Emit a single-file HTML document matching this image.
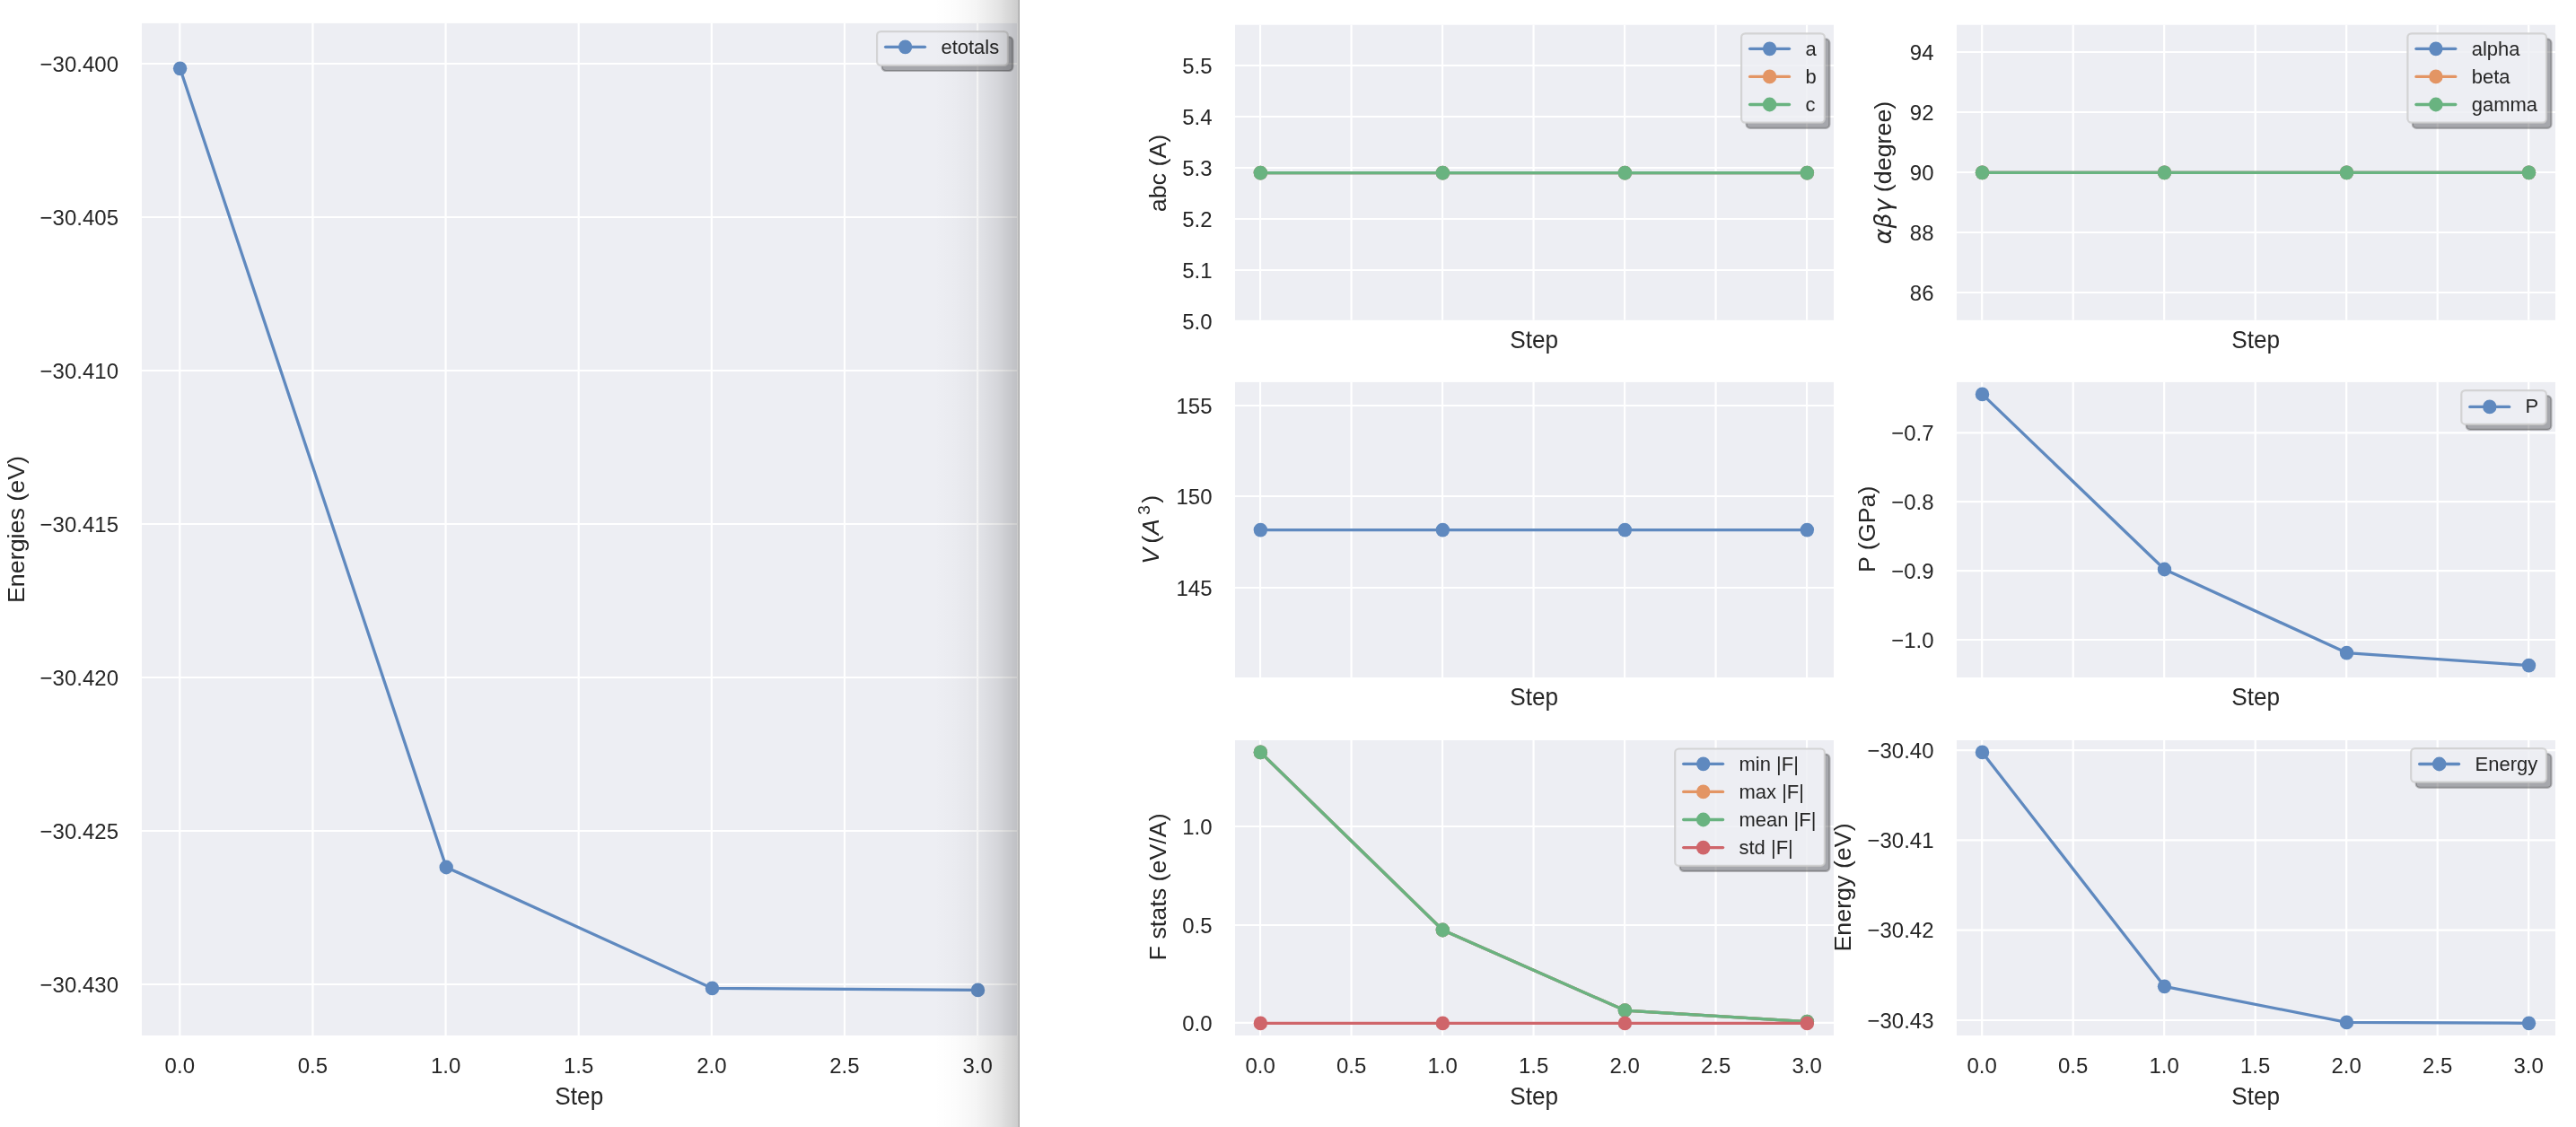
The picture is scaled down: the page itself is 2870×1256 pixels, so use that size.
<!DOCTYPE html>
<html lang="en"><head><meta charset="utf-8"><title>Relaxation history plots</title>
<style>
html,body{margin:0;padding:0;background:#fff;}
body{width:2870px;height:1256px;overflow:hidden;}
svg{display:block;will-change:transform;}
text{font-family:'Liberation Sans', Arial, sans-serif;fill:#262626;}
.t{font-size:24px;}
.l{font-size:26.2px;}
.g{font-size:22px;}
</style></head>
<body>
<svg width="2870" height="1256" viewBox="0 0 2870 1256">
<defs>
<linearGradient id="fold" x1="0" y1="0" x2="1" y2="0">
<stop offset="0" stop-color="#000" stop-opacity="0"/>
<stop offset=".25" stop-color="#000" stop-opacity=".012"/>
<stop offset=".5" stop-color="#000" stop-opacity=".04"/>
<stop offset=".75" stop-color="#000" stop-opacity=".10"/>
<stop offset="1" stop-color="#000" stop-opacity=".20"/>
</linearGradient>
</defs>
<rect width="2870" height="1256" fill="#fff"/>
<rect x="158" y="25.9" width="975.00" height="1128.00" fill="#EDEEF3"/>
<path d="M200.30 25.9V1153.9M348.43 25.9V1153.9M496.56 25.9V1153.9M644.69 25.9V1153.9M792.82 25.9V1153.9M940.95 25.9V1153.9M1089.08 25.9V1153.9M158 71.00H1133M158 242.00H1133M158 413.00H1133M158 584.00H1133M158 755.00H1133M158 926.00H1133M158 1097.00H1133" stroke="#fff" stroke-width="2.2" fill="none"/>
<path d="M200.60 76.30L497.20 966.50L793.50 1101.40L1089.50 1103.40" stroke="#5F89BF" stroke-width="3.3" fill="none" stroke-linecap="round" stroke-linejoin="round"/>
<ellipse cx="200.60" cy="76.30" rx="7.7" ry="7.89" fill="#5F89BF"/>
<ellipse cx="497.20" cy="966.50" rx="7.7" ry="7.89" fill="#5F89BF"/>
<ellipse cx="793.50" cy="1101.40" rx="7.7" ry="7.89" fill="#5F89BF"/>
<ellipse cx="1089.50" cy="1103.40" rx="7.7" ry="7.89" fill="#5F89BF"/>
<text transform="translate(132,79.70) scale(1,1.025)" text-anchor="end" class="t">−30.400</text>
<text transform="translate(132,250.70) scale(1,1.025)" text-anchor="end" class="t">−30.405</text>
<text transform="translate(132,421.70) scale(1,1.025)" text-anchor="end" class="t">−30.410</text>
<text transform="translate(132,592.70) scale(1,1.025)" text-anchor="end" class="t">−30.415</text>
<text transform="translate(132,763.70) scale(1,1.025)" text-anchor="end" class="t">−30.420</text>
<text transform="translate(132,934.70) scale(1,1.025)" text-anchor="end" class="t">−30.425</text>
<text transform="translate(132,1105.70) scale(1,1.025)" text-anchor="end" class="t">−30.430</text>
<text transform="translate(200.30,1196) scale(1,1.025)" text-anchor="middle" class="t">0.0</text>
<text transform="translate(348.43,1196) scale(1,1.025)" text-anchor="middle" class="t">0.5</text>
<text transform="translate(496.56,1196) scale(1,1.025)" text-anchor="middle" class="t">1.0</text>
<text transform="translate(644.69,1196) scale(1,1.025)" text-anchor="middle" class="t">1.5</text>
<text transform="translate(792.82,1196) scale(1,1.025)" text-anchor="middle" class="t">2.0</text>
<text transform="translate(940.95,1196) scale(1,1.025)" text-anchor="middle" class="t">2.5</text>
<text transform="translate(1089.08,1196) scale(1,1.025)" text-anchor="middle" class="t">3.0</text>
<text transform="translate(645.30,1230.7) scale(1,1.025)" text-anchor="middle" class="l">Step</text>
<text transform="translate(27.1,590) scale(1,1.025) rotate(-90)" text-anchor="middle" class="l">Energies (eV)</text>
<rect x="982.60" y="41.20" width="145.80" height="37.80" rx="4.4" fill="#464649" fill-opacity=".42" stroke="#3d3d3d" stroke-opacity=".33" stroke-width="2.2"/>
<rect x="977.10" y="35.10" width="145.80" height="37.80" rx="4.4" fill="#EDEEF3"/>
<path d="M1089.08 36.20V71.80" stroke="#fff" stroke-opacity=".2" stroke-width="2.2" fill="none"/>
<rect x="977.10" y="35.10" width="145.80" height="37.80" rx="4.4" fill="none" stroke="#cccccc" stroke-opacity=".8" stroke-width="2.2"/>
<path d="M986.60 52.30H1030.50" stroke="#5F89BF" stroke-width="3.3" stroke-linecap="round"/>
<ellipse cx="1008.60" cy="52.30" rx="7.7" ry="7.89" fill="#5F89BF"/>
<text transform="translate(1048.40,59.60) scale(1,1.025)" class="g">etotals</text>
<rect x="1040" y="0" width="94.6" height="1256" fill="url(#fold)"/>
<rect x="1134.4" y="0" width="1.6" height="1256" fill="#a6a6a6"/>
<rect x="1376" y="27.7" width="667.00" height="329.10" fill="#EDEEF3"/>
<path d="M1404.06 27.7V356.8M1505.56 27.7V356.8M1607.06 27.7V356.8M1708.56 27.7V356.8M1810.06 27.7V356.8M1911.56 27.7V356.8M2013.06 27.7V356.8M1376 73.00H2043M1376 130.00H2043M1376 187.00H2043M1376 244.00H2043M1376 301.00H2043" stroke="#fff" stroke-width="2.2" fill="none"/>
<path d="M1404.36 192.60L1607.36 192.60L1810.36 192.60L2013.36 192.60" stroke="#5F89BF" stroke-width="3.3" fill="none" stroke-linecap="round" stroke-linejoin="round"/>
<ellipse cx="1404.36" cy="192.60" rx="7.7" ry="7.89" fill="#5F89BF"/>
<ellipse cx="1607.36" cy="192.60" rx="7.7" ry="7.89" fill="#5F89BF"/>
<ellipse cx="1810.36" cy="192.60" rx="7.7" ry="7.89" fill="#5F89BF"/>
<ellipse cx="2013.36" cy="192.60" rx="7.7" ry="7.89" fill="#5F89BF"/>
<path d="M1404.36 192.60L1607.36 192.60L1810.36 192.60L2013.36 192.60" stroke="#E39564" stroke-width="3.3" fill="none" stroke-linecap="round" stroke-linejoin="round"/>
<ellipse cx="1404.36" cy="192.60" rx="7.7" ry="7.89" fill="#E39564"/>
<ellipse cx="1607.36" cy="192.60" rx="7.7" ry="7.89" fill="#E39564"/>
<ellipse cx="1810.36" cy="192.60" rx="7.7" ry="7.89" fill="#E39564"/>
<ellipse cx="2013.36" cy="192.60" rx="7.7" ry="7.89" fill="#E39564"/>
<path d="M1404.36 192.60L1607.36 192.60L1810.36 192.60L2013.36 192.60" stroke="#69B380" stroke-width="3.3" fill="none" stroke-linecap="round" stroke-linejoin="round"/>
<ellipse cx="1404.36" cy="192.60" rx="7.7" ry="7.89" fill="#69B380"/>
<ellipse cx="1607.36" cy="192.60" rx="7.7" ry="7.89" fill="#69B380"/>
<ellipse cx="1810.36" cy="192.60" rx="7.7" ry="7.89" fill="#69B380"/>
<ellipse cx="2013.36" cy="192.60" rx="7.7" ry="7.89" fill="#69B380"/>
<text transform="translate(1350.5,81.70) scale(1,1.025)" text-anchor="end" class="t">5.5</text>
<text transform="translate(1350.5,138.70) scale(1,1.025)" text-anchor="end" class="t">5.4</text>
<text transform="translate(1350.5,195.70) scale(1,1.025)" text-anchor="end" class="t">5.3</text>
<text transform="translate(1350.5,252.70) scale(1,1.025)" text-anchor="end" class="t">5.2</text>
<text transform="translate(1350.5,309.70) scale(1,1.025)" text-anchor="end" class="t">5.1</text>
<text transform="translate(1350.5,366.70) scale(1,1.025)" text-anchor="end" class="t">5.0</text>
<text transform="translate(1709.20,387.8) scale(1,1.025)" text-anchor="middle" class="l">Step</text>
<text transform="translate(1299,193) scale(1,1.025) rotate(-90)" text-anchor="middle" class="l">abc (A)</text>
<rect x="1945.60" y="43.40" width="92.80" height="99.40" rx="4.4" fill="#464649" fill-opacity=".42" stroke="#3d3d3d" stroke-opacity=".33" stroke-width="2.2"/>
<rect x="1940.10" y="37.30" width="92.80" height="99.40" rx="4.4" fill="#EDEEF3"/>
<path d="M2013.06 38.40V135.60M1941.20 73.00H2031.80M1941.20 130.00H2031.80" stroke="#fff" stroke-opacity=".2" stroke-width="2.2" fill="none"/>
<rect x="1940.10" y="37.30" width="92.80" height="99.40" rx="4.4" fill="none" stroke="#cccccc" stroke-opacity=".8" stroke-width="2.2"/>
<path d="M1949.60 54.30H1993.50" stroke="#5F89BF" stroke-width="3.3" stroke-linecap="round"/>
<ellipse cx="1971.60" cy="54.30" rx="7.7" ry="7.89" fill="#5F89BF"/>
<text transform="translate(2011.40,61.60) scale(1,1.025)" class="g">a</text>
<path d="M1949.60 85.40H1993.50" stroke="#E39564" stroke-width="3.3" stroke-linecap="round"/>
<ellipse cx="1971.60" cy="85.40" rx="7.7" ry="7.89" fill="#E39564"/>
<text transform="translate(2011.40,92.70) scale(1,1.025)" class="g">b</text>
<path d="M1949.60 116.50H1993.50" stroke="#69B380" stroke-width="3.3" stroke-linecap="round"/>
<ellipse cx="1971.60" cy="116.50" rx="7.7" ry="7.89" fill="#69B380"/>
<text transform="translate(2011.40,123.80) scale(1,1.025)" class="g">c</text>
<rect x="2180" y="27.7" width="667.00" height="329.10" fill="#EDEEF3"/>
<path d="M2208.20 27.7V356.8M2309.70 27.7V356.8M2411.20 27.7V356.8M2512.70 27.7V356.8M2614.20 27.7V356.8M2715.70 27.7V356.8M2817.20 27.7V356.8M2180 58.00H2847M2180 125.00H2847M2180 192.00H2847M2180 259.00H2847M2180 326.00H2847" stroke="#fff" stroke-width="2.2" fill="none"/>
<path d="M2208.50 192.30L2411.50 192.30L2614.50 192.30L2817.50 192.30" stroke="#5F89BF" stroke-width="3.3" fill="none" stroke-linecap="round" stroke-linejoin="round"/>
<ellipse cx="2208.50" cy="192.30" rx="7.7" ry="7.89" fill="#5F89BF"/>
<ellipse cx="2411.50" cy="192.30" rx="7.7" ry="7.89" fill="#5F89BF"/>
<ellipse cx="2614.50" cy="192.30" rx="7.7" ry="7.89" fill="#5F89BF"/>
<ellipse cx="2817.50" cy="192.30" rx="7.7" ry="7.89" fill="#5F89BF"/>
<path d="M2208.50 192.30L2411.50 192.30L2614.50 192.30L2817.50 192.30" stroke="#E39564" stroke-width="3.3" fill="none" stroke-linecap="round" stroke-linejoin="round"/>
<ellipse cx="2208.50" cy="192.30" rx="7.7" ry="7.89" fill="#E39564"/>
<ellipse cx="2411.50" cy="192.30" rx="7.7" ry="7.89" fill="#E39564"/>
<ellipse cx="2614.50" cy="192.30" rx="7.7" ry="7.89" fill="#E39564"/>
<ellipse cx="2817.50" cy="192.30" rx="7.7" ry="7.89" fill="#E39564"/>
<path d="M2208.50 192.30L2411.50 192.30L2614.50 192.30L2817.50 192.30" stroke="#69B380" stroke-width="3.3" fill="none" stroke-linecap="round" stroke-linejoin="round"/>
<ellipse cx="2208.50" cy="192.30" rx="7.7" ry="7.89" fill="#69B380"/>
<ellipse cx="2411.50" cy="192.30" rx="7.7" ry="7.89" fill="#69B380"/>
<ellipse cx="2614.50" cy="192.30" rx="7.7" ry="7.89" fill="#69B380"/>
<ellipse cx="2817.50" cy="192.30" rx="7.7" ry="7.89" fill="#69B380"/>
<text transform="translate(2154.5,66.70) scale(1,1.025)" text-anchor="end" class="t">94</text>
<text transform="translate(2154.5,133.70) scale(1,1.025)" text-anchor="end" class="t">92</text>
<text transform="translate(2154.5,200.70) scale(1,1.025)" text-anchor="end" class="t">90</text>
<text transform="translate(2154.5,267.70) scale(1,1.025)" text-anchor="end" class="t">88</text>
<text transform="translate(2154.5,334.70) scale(1,1.025)" text-anchor="end" class="t">86</text>
<text transform="translate(2513.20,387.8) scale(1,1.025)" text-anchor="middle" class="l">Step</text>
<text transform="translate(2107.2,192.5) scale(1,1.025) rotate(-90)" text-anchor="middle" class="l"><tspan font-family="DejaVu Sans" font-style="italic">αβγ</tspan> (degree)</text>
<rect x="2687.90" y="43.40" width="154.60" height="99.40" rx="4.4" fill="#464649" fill-opacity=".42" stroke="#3d3d3d" stroke-opacity=".33" stroke-width="2.2"/>
<rect x="2682.40" y="37.30" width="154.60" height="99.40" rx="4.4" fill="#EDEEF3"/>
<path d="M2715.70 38.40V135.60M2817.20 38.40V135.60M2683.50 58.00H2835.90M2683.50 125.00H2835.90" stroke="#fff" stroke-opacity=".2" stroke-width="2.2" fill="none"/>
<rect x="2682.40" y="37.30" width="154.60" height="99.40" rx="4.4" fill="none" stroke="#cccccc" stroke-opacity=".8" stroke-width="2.2"/>
<path d="M2691.90 54.30H2735.80" stroke="#5F89BF" stroke-width="3.3" stroke-linecap="round"/>
<ellipse cx="2713.90" cy="54.30" rx="7.7" ry="7.89" fill="#5F89BF"/>
<text transform="translate(2753.70,61.60) scale(1,1.025)" class="g">alpha</text>
<path d="M2691.90 85.40H2735.80" stroke="#E39564" stroke-width="3.3" stroke-linecap="round"/>
<ellipse cx="2713.90" cy="85.40" rx="7.7" ry="7.89" fill="#E39564"/>
<text transform="translate(2753.70,92.70) scale(1,1.025)" class="g">beta</text>
<path d="M2691.90 116.50H2735.80" stroke="#69B380" stroke-width="3.3" stroke-linecap="round"/>
<ellipse cx="2713.90" cy="116.50" rx="7.7" ry="7.89" fill="#69B380"/>
<text transform="translate(2753.70,123.80) scale(1,1.025)" class="g">gamma</text>
<rect x="1376" y="425.9" width="667.00" height="329.00" fill="#EDEEF3"/>
<path d="M1404.06 425.9V754.9M1505.56 425.9V754.9M1607.06 425.9V754.9M1708.56 425.9V754.9M1810.06 425.9V754.9M1911.56 425.9V754.9M2013.06 425.9V754.9M1376 452.00H2043M1376 553.00H2043M1376 655.00H2043" stroke="#fff" stroke-width="2.2" fill="none"/>
<path d="M1404.36 590.60L1607.36 590.60L1810.36 590.60L2013.36 590.60" stroke="#5F89BF" stroke-width="3.3" fill="none" stroke-linecap="round" stroke-linejoin="round"/>
<ellipse cx="1404.36" cy="590.60" rx="7.7" ry="7.89" fill="#5F89BF"/>
<ellipse cx="1607.36" cy="590.60" rx="7.7" ry="7.89" fill="#5F89BF"/>
<ellipse cx="1810.36" cy="590.60" rx="7.7" ry="7.89" fill="#5F89BF"/>
<ellipse cx="2013.36" cy="590.60" rx="7.7" ry="7.89" fill="#5F89BF"/>
<text transform="translate(1350.5,460.70) scale(1,1.025)" text-anchor="end" class="t">155</text>
<text transform="translate(1350.5,561.70) scale(1,1.025)" text-anchor="end" class="t">150</text>
<text transform="translate(1350.5,663.70) scale(1,1.025)" text-anchor="end" class="t">145</text>
<text transform="translate(1709.20,785.6) scale(1,1.025)" text-anchor="middle" class="l">Step</text>
<g transform="translate(1291,590.4) scale(1,1.025) rotate(-90)" class="l"><text x="-37.5" y="0" font-style="italic">V</text><text x="-14.9" y="0">(</text><text x="-5.8" y="0" font-style="italic">A</text><text x="16.2" y="-9.6" font-size="18.5">3</text><text x="28.9" y="0">)</text></g>
<rect x="2180" y="425.9" width="667.00" height="329.00" fill="#EDEEF3"/>
<path d="M2208.20 425.9V754.9M2309.70 425.9V754.9M2411.20 425.9V754.9M2512.70 425.9V754.9M2614.20 425.9V754.9M2715.70 425.9V754.9M2817.20 425.9V754.9M2180 482.30H2847M2180 559.20H2847M2180 636.10H2847M2180 713.00H2847" stroke="#fff" stroke-width="2.2" fill="none"/>
<path d="M2208.50 439.40L2411.50 634.50L2614.50 727.60L2817.50 741.60" stroke="#5F89BF" stroke-width="3.3" fill="none" stroke-linecap="round" stroke-linejoin="round"/>
<ellipse cx="2208.50" cy="439.40" rx="7.7" ry="7.89" fill="#5F89BF"/>
<ellipse cx="2411.50" cy="634.50" rx="7.7" ry="7.89" fill="#5F89BF"/>
<ellipse cx="2614.50" cy="727.60" rx="7.7" ry="7.89" fill="#5F89BF"/>
<ellipse cx="2817.50" cy="741.60" rx="7.7" ry="7.89" fill="#5F89BF"/>
<text transform="translate(2154.5,491.00) scale(1,1.025)" text-anchor="end" class="t">−0.7</text>
<text transform="translate(2154.5,567.90) scale(1,1.025)" text-anchor="end" class="t">−0.8</text>
<text transform="translate(2154.5,644.80) scale(1,1.025)" text-anchor="end" class="t">−0.9</text>
<text transform="translate(2154.5,721.70) scale(1,1.025)" text-anchor="end" class="t">−1.0</text>
<text transform="translate(2513.20,785.6) scale(1,1.025)" text-anchor="middle" class="l">Step</text>
<text transform="translate(2088.7,589.8) scale(1,1.025) rotate(-90)" text-anchor="middle" class="l">P (GPa)</text>
<rect x="2747.80" y="441.20" width="94.60" height="37.70" rx="4.4" fill="#464649" fill-opacity=".42" stroke="#3d3d3d" stroke-opacity=".33" stroke-width="2.2"/>
<rect x="2742.30" y="435.10" width="94.60" height="37.70" rx="4.4" fill="#EDEEF3"/>
<path d="M2817.20 436.20V471.70" stroke="#fff" stroke-opacity=".2" stroke-width="2.2" fill="none"/>
<rect x="2742.30" y="435.10" width="94.60" height="37.70" rx="4.4" fill="none" stroke="#cccccc" stroke-opacity=".8" stroke-width="2.2"/>
<path d="M2751.80 453.40H2795.70" stroke="#5F89BF" stroke-width="3.3" stroke-linecap="round"/>
<ellipse cx="2773.80" cy="453.40" rx="7.7" ry="7.89" fill="#5F89BF"/>
<text transform="translate(2813.60,459.90) scale(1,1.025)" class="g">P</text>
<rect x="1376" y="825" width="667.00" height="328.90" fill="#EDEEF3"/>
<path d="M1404.06 825V1153.9M1505.56 825V1153.9M1607.06 825V1153.9M1708.56 825V1153.9M1810.06 825V1153.9M1911.56 825V1153.9M2013.06 825V1153.9M1376 921.00H2043M1376 1031.00H2043M1376 1139.90H2043" stroke="#fff" stroke-width="2.2" fill="none"/>
<path d="M1404.36 838.40L1607.36 1036.50L1810.36 1126.10L2013.36 1138.60" stroke="#5F89BF" stroke-width="3.3" fill="none" stroke-linecap="round" stroke-linejoin="round"/>
<ellipse cx="1404.36" cy="838.40" rx="7.7" ry="7.89" fill="#5F89BF"/>
<ellipse cx="1607.36" cy="1036.50" rx="7.7" ry="7.89" fill="#5F89BF"/>
<ellipse cx="1810.36" cy="1126.10" rx="7.7" ry="7.89" fill="#5F89BF"/>
<ellipse cx="2013.36" cy="1138.60" rx="7.7" ry="7.89" fill="#5F89BF"/>
<path d="M1404.36 838.40L1607.36 1036.50L1810.36 1126.10L2013.36 1138.60" stroke="#E39564" stroke-width="3.3" fill="none" stroke-linecap="round" stroke-linejoin="round"/>
<ellipse cx="1404.36" cy="838.40" rx="7.7" ry="7.89" fill="#E39564"/>
<ellipse cx="1607.36" cy="1036.50" rx="7.7" ry="7.89" fill="#E39564"/>
<ellipse cx="1810.36" cy="1126.10" rx="7.7" ry="7.89" fill="#E39564"/>
<ellipse cx="2013.36" cy="1138.60" rx="7.7" ry="7.89" fill="#E39564"/>
<path d="M1404.36 838.40L1607.36 1036.50L1810.36 1126.10L2013.36 1138.60" stroke="#69B380" stroke-width="3.3" fill="none" stroke-linecap="round" stroke-linejoin="round"/>
<ellipse cx="1404.36" cy="838.40" rx="7.7" ry="7.89" fill="#69B380"/>
<ellipse cx="1607.36" cy="1036.50" rx="7.7" ry="7.89" fill="#69B380"/>
<ellipse cx="1810.36" cy="1126.10" rx="7.7" ry="7.89" fill="#69B380"/>
<ellipse cx="2013.36" cy="1138.60" rx="7.7" ry="7.89" fill="#69B380"/>
<path d="M1404.36 1140.40L1607.36 1140.40L1810.36 1140.40L2013.36 1140.40" stroke="#CF656A" stroke-width="3.3" fill="none" stroke-linecap="round" stroke-linejoin="round"/>
<ellipse cx="1404.36" cy="1140.40" rx="7.7" ry="7.89" fill="#CF656A"/>
<ellipse cx="1607.36" cy="1140.40" rx="7.7" ry="7.89" fill="#CF656A"/>
<ellipse cx="1810.36" cy="1140.40" rx="7.7" ry="7.89" fill="#CF656A"/>
<ellipse cx="2013.36" cy="1140.40" rx="7.7" ry="7.89" fill="#CF656A"/>
<text transform="translate(1350.5,929.70) scale(1,1.025)" text-anchor="end" class="t">1.0</text>
<text transform="translate(1350.5,1039.70) scale(1,1.025)" text-anchor="end" class="t">0.5</text>
<text transform="translate(1350.5,1148.60) scale(1,1.025)" text-anchor="end" class="t">0.0</text>
<text transform="translate(1404.06,1196) scale(1,1.025)" text-anchor="middle" class="t">0.0</text>
<text transform="translate(1505.56,1196) scale(1,1.025)" text-anchor="middle" class="t">0.5</text>
<text transform="translate(1607.06,1196) scale(1,1.025)" text-anchor="middle" class="t">1.0</text>
<text transform="translate(1708.56,1196) scale(1,1.025)" text-anchor="middle" class="t">1.5</text>
<text transform="translate(1810.06,1196) scale(1,1.025)" text-anchor="middle" class="t">2.0</text>
<text transform="translate(1911.56,1196) scale(1,1.025)" text-anchor="middle" class="t">2.5</text>
<text transform="translate(2013.06,1196) scale(1,1.025)" text-anchor="middle" class="t">3.0</text>
<text transform="translate(1709.20,1230.5) scale(1,1.025)" text-anchor="middle" class="l">Step</text>
<text transform="translate(1298.8,988.4) scale(1,1.025) rotate(-90)" text-anchor="middle" class="l">F stats (eV/A)</text>
<rect x="1871.70" y="840.60" width="166.70" height="130.30" rx="4.4" fill="#464649" fill-opacity=".42" stroke="#3d3d3d" stroke-opacity=".33" stroke-width="2.2"/>
<rect x="1866.20" y="834.50" width="166.70" height="130.30" rx="4.4" fill="#EDEEF3"/>
<path d="M1911.56 835.60V963.70M2013.06 835.60V963.70M1867.30 921.00H2031.80" stroke="#fff" stroke-opacity=".2" stroke-width="2.2" fill="none"/>
<rect x="1866.20" y="834.50" width="166.70" height="130.30" rx="4.4" fill="none" stroke="#cccccc" stroke-opacity=".8" stroke-width="2.2"/>
<path d="M1875.70 851.30H1919.60" stroke="#5F89BF" stroke-width="3.3" stroke-linecap="round"/>
<ellipse cx="1897.70" cy="851.30" rx="7.7" ry="7.89" fill="#5F89BF"/>
<text transform="translate(1937.50,858.60) scale(1,1.025)" class="g">min |F|</text>
<path d="M1875.70 882.40H1919.60" stroke="#E39564" stroke-width="3.3" stroke-linecap="round"/>
<ellipse cx="1897.70" cy="882.40" rx="7.7" ry="7.89" fill="#E39564"/>
<text transform="translate(1937.50,889.70) scale(1,1.025)" class="g">max |F|</text>
<path d="M1875.70 913.50H1919.60" stroke="#69B380" stroke-width="3.3" stroke-linecap="round"/>
<ellipse cx="1897.70" cy="913.50" rx="7.7" ry="7.89" fill="#69B380"/>
<text transform="translate(1937.50,920.80) scale(1,1.025)" class="g">mean |F|</text>
<path d="M1875.70 944.60H1919.60" stroke="#CF656A" stroke-width="3.3" stroke-linecap="round"/>
<ellipse cx="1897.70" cy="944.60" rx="7.7" ry="7.89" fill="#CF656A"/>
<text transform="translate(1937.50,951.90) scale(1,1.025)" class="g">std |F|</text>
<rect x="2180" y="825" width="667.00" height="328.90" fill="#EDEEF3"/>
<path d="M2208.20 825V1153.9M2309.70 825V1153.9M2411.20 825V1153.9M2512.70 825V1153.9M2614.20 825V1153.9M2715.70 825V1153.9M2817.20 825V1153.9M2180 836.10H2847M2180 936.40H2847M2180 1036.70H2847M2180 1137.00H2847" stroke="#fff" stroke-width="2.2" fill="none"/>
<path d="M2208.50 838.40L2411.50 1099.30L2614.50 1139.40L2817.50 1140.30" stroke="#5F89BF" stroke-width="3.3" fill="none" stroke-linecap="round" stroke-linejoin="round"/>
<ellipse cx="2208.50" cy="838.40" rx="7.7" ry="7.89" fill="#5F89BF"/>
<ellipse cx="2411.50" cy="1099.30" rx="7.7" ry="7.89" fill="#5F89BF"/>
<ellipse cx="2614.50" cy="1139.40" rx="7.7" ry="7.89" fill="#5F89BF"/>
<ellipse cx="2817.50" cy="1140.30" rx="7.7" ry="7.89" fill="#5F89BF"/>
<text transform="translate(2154.5,844.80) scale(1,1.025)" text-anchor="end" class="t">−30.40</text>
<text transform="translate(2154.5,945.10) scale(1,1.025)" text-anchor="end" class="t">−30.41</text>
<text transform="translate(2154.5,1045.40) scale(1,1.025)" text-anchor="end" class="t">−30.42</text>
<text transform="translate(2154.5,1145.70) scale(1,1.025)" text-anchor="end" class="t">−30.43</text>
<text transform="translate(2208.20,1196) scale(1,1.025)" text-anchor="middle" class="t">0.0</text>
<text transform="translate(2309.70,1196) scale(1,1.025)" text-anchor="middle" class="t">0.5</text>
<text transform="translate(2411.20,1196) scale(1,1.025)" text-anchor="middle" class="t">1.0</text>
<text transform="translate(2512.70,1196) scale(1,1.025)" text-anchor="middle" class="t">1.5</text>
<text transform="translate(2614.20,1196) scale(1,1.025)" text-anchor="middle" class="t">2.0</text>
<text transform="translate(2715.70,1196) scale(1,1.025)" text-anchor="middle" class="t">2.5</text>
<text transform="translate(2817.20,1196) scale(1,1.025)" text-anchor="middle" class="t">3.0</text>
<text transform="translate(2513.20,1230.5) scale(1,1.025)" text-anchor="middle" class="l">Step</text>
<text transform="translate(2062,989) scale(1,1.025) rotate(-90)" text-anchor="middle" class="l">Energy (eV)</text>
<rect x="2691.70" y="840.20" width="150.80" height="37.60" rx="4.4" fill="#464649" fill-opacity=".42" stroke="#3d3d3d" stroke-opacity=".33" stroke-width="2.2"/>
<rect x="2686.20" y="834.10" width="150.80" height="37.60" rx="4.4" fill="#EDEEF3"/>
<path d="M2715.70 835.20V870.60M2817.20 835.20V870.60M2687.30 836.10H2835.90" stroke="#fff" stroke-opacity=".2" stroke-width="2.2" fill="none"/>
<rect x="2686.20" y="834.10" width="150.80" height="37.60" rx="4.4" fill="none" stroke="#cccccc" stroke-opacity=".8" stroke-width="2.2"/>
<path d="M2695.70 851.50H2739.60" stroke="#5F89BF" stroke-width="3.3" stroke-linecap="round"/>
<ellipse cx="2717.70" cy="851.50" rx="7.7" ry="7.89" fill="#5F89BF"/>
<text transform="translate(2757.50,858.90) scale(1,1.025)" class="g">Energy</text>
</svg>
</body></html>
